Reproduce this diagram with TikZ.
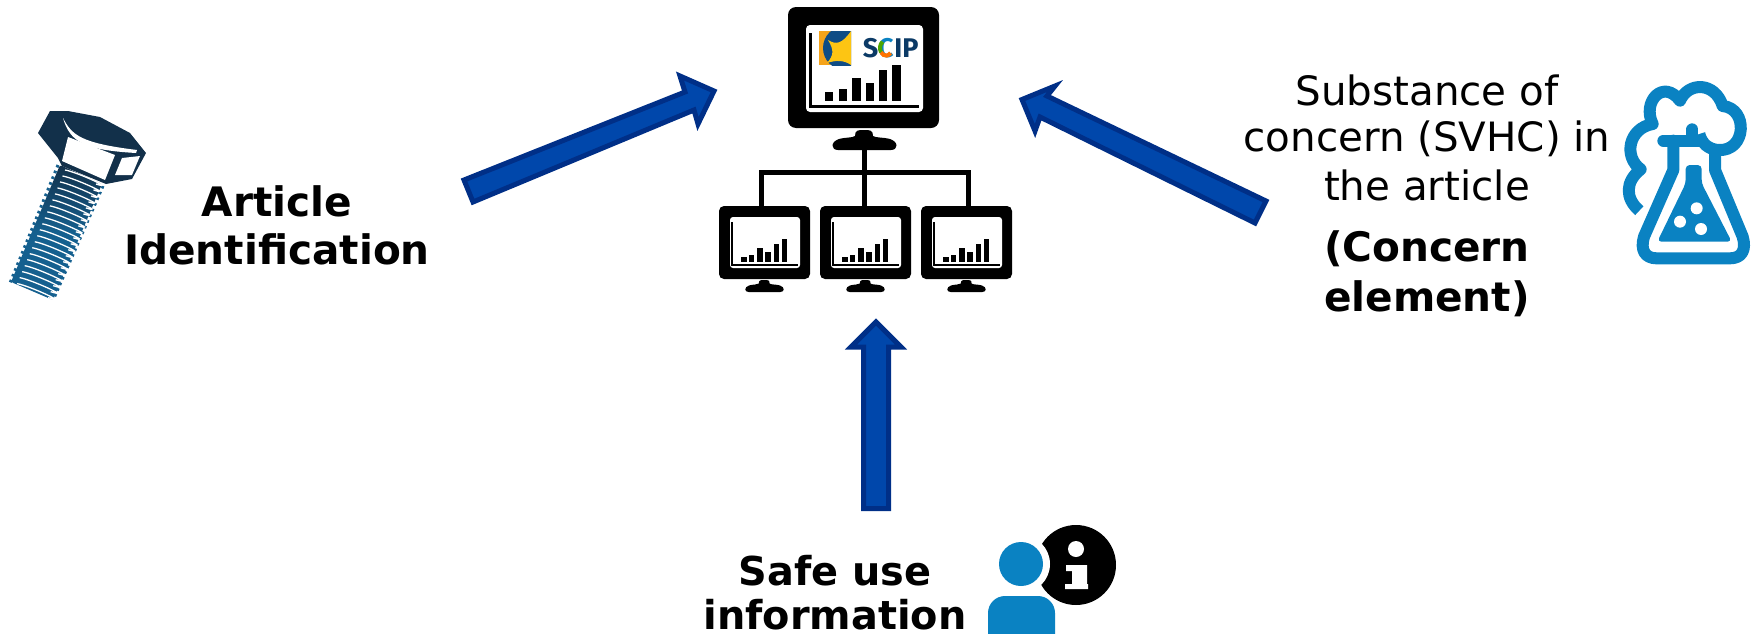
\documentclass[tikz,border=0pt]{standalone}
\usepackage{fontspec}
\setmainfont{DejaVu Sans}
\newfontfamily\logofont{Fira Sans}
\usetikzlibrary{calc}
\definecolor{arrowfill}{HTML}{0047AB}
\definecolor{arrowedge}{HTML}{002F87}
\definecolor{iconblue}{HTML}{0A82C2}
\definecolor{boltdark}{HTML}{12304A}
\definecolor{boltblue}{HTML}{15608F}
\definecolor{logoorange}{HTML}{F5A31A}
\definecolor{logoblue}{HTML}{0F4C85}
\definecolor{logoyellow}{HTML}{FDC513}
\definecolor{scipnavy}{HTML}{0B3A66}
\newcommand\standpath{(6,20) -- (59,20) .. controls (66,20) and (67,12) .. (58,9) .. controls (50,7) and (44,8) .. (41,6) .. controls (41,0) and (38,0) .. (32,0) .. controls (26,0) and (23,0) .. (23,6) .. controls (20,8) and (15,7) .. (7,9) .. controls (-2,12) and (-1,20) .. (6,20) -- cycle}
\tikzset{
  blockarrow/.style={draw=arrowedge,fill=arrowfill,line width=5pt,miter limit=10},
  label/.style={anchor=base,inner sep=0pt,font=\fontsize{40.4}{47}\selectfont},
  labelb/.style={label,font=\fontsize{40.6}{47}\selectfont\bfseries},
  labelc/.style={label,font=\fontsize{39.8}{47}\selectfont\bfseries},
  wire/.style={line width=5pt,draw=black},
  flaskline/.style={draw=iconblue,line width=12pt,line cap=round,line join=round},
  sciptext/.style={anchor=center,inner sep=0pt,text=scipnavy,font=\logofont\fontsize{27}{27}\selectfont\bfseries},
  pics/smallmon/.style={code={
    \fill[black,rounded corners=5pt] (0,0) rectangle (91,73);
    \fill[white,rounded corners=3pt] (11,11) rectangle (81,62);
    \draw[black,line width=2pt] (13,16) -- (13,59) -- (79,59);
    \foreach \a/\b/\t in {22/28/51,30/35/49,38/44/42,46/52/46,55/60/38,63/68/33}
      \fill[black] (\a,\t) rectangle (\b,56);
    \fill[black,shift={(26,74)},scale=0.6] \standpath;
  }}
}
\begin{document}
\begin{tikzpicture}[x=1pt,y=-1pt]
\useasboundingbox (0,0) rectangle (1757,635);

% block arrows
\draw[blockarrow] (464,180) -- (685,92) -- (680,76) -- (714,91) -- (698,124) -- (694,110) -- (473,202) -- cycle;
\draw[blockarrow] (1266,201) -- (1047,96) -- (1055,86) -- (1022,99.5) -- (1035,131) -- (1040,117) -- (1255,223) -- cycle;
\draw[blockarrow] (863.5,508.5) -- (863.5,347) -- (851,347) -- (876,322) -- (901,347) -- (888.5,347) -- (888.5,508.5) -- cycle;

% main monitor
\fill[black,rounded corners=8pt] (788,7) rectangle (939,128);
\fill[white,rounded corners=4pt] (806,25) rectangle (923,112);
\draw[black,line width=3pt] (810,33) -- (810,106) -- (919,106);
\foreach \a/\b/\t in {825/833/92,839/847/89,852/861/78,866/874/83,879/887/70,892/901/65}
  \fill[black] (\a,\t) rectangle (\b,101);
\fill[black,shift={(832,130)}] \standpath;

% logo
\fill[logoorange] (819,31) rectangle (851,65);
\begin{scope}
  \clip (819,31) rectangle (851,65);
  \fill[logoblue] (845,48) circle (22);
  \fill[logoyellow] (828,40) .. controls (836,45) and (842,44) .. (851,31) -- (851,65)
    .. controls (844,60) and (836,60) .. (827,63) .. controls (834,55) and (834,50) .. (828,40) -- cycle;
\end{scope}
\node[sciptext] (scipS) at (870.5,48) {S};
\node[sciptext,text=iconblue] (scipC) at (886,48) {C};
\node[sciptext] (scipP) at (906.5,48) {IP};
\draw[line width=4pt,green!50!black!70!yellow] ($(scipC)+(125:6pt and 7.6pt)$) arc[start angle=125,end angle=215,x radius=6pt,y radius=7.6pt];
\draw[line width=4pt,orange!90!red] ($(scipC)+(215:6pt and 7.6pt)$) arc[start angle=215,end angle=320,x radius=6pt,y radius=7.6pt];

% network
\draw[wire] (864,150) -- (864,206);
\draw[wire] (761,206) -- (761,172) -- (968,172) -- (968,206);
\pic at (719,206) {smallmon};
\pic at (820,206) {smallmon};
\pic at (921,206) {smallmon};

% bolt
\draw[boltblue,line width=3pt,dash pattern=on 2.6pt off 3.6pt] (58,165) -- (10,283);
\draw[boltblue,line width=3pt,dash pattern=on 2.6pt off 3.6pt] (103,186) -- (54,298);
\shade[top color=boltdark,bottom color=boltblue,middle color=boltblue,rounded corners=2pt]
  (60,165) -- (102,184) -- (53,300) -- (11,282) -- cycle;
\foreach \i in {0,...,19}
  \draw[white,line width=1.3pt]
    ($(65,170)+\i*(-2.52,5.98)$) .. controls +(12,2) and +(22,7) .. +(31,14);
\fill[boltdark] (50,111) -- (38,133) -- (58,158) -- (62,166) -- (106,184) -- (132,179) -- (146,153)
  -- (130,133) -- (100,117) -- (68,111) -- cycle;
\fill[white] (68,137) -- (115,155) -- (105,180) -- (62,161) -- cycle;
\fill[white] (122,158) -- (140,156) -- (132,175) -- (115,175) -- cycle;
\fill[white] (63,118) .. controls (72,135) and (80,143) .. (137,150) -- (136,153)
  .. controls (84,150) and (70,142) .. (63,118) -- cycle;

% flask
\begin{scope}[x=0.33333pt,y=-0.33333pt,xshift=1600pt,yshift=-70pt]
  \draw[flaskline,line cap=butt] (118,422) .. controls (75,385) and (75,335) .. (122,298)
    .. controls (70,260) and (85,175) .. (158,162)
    .. controls (125,95) and (190,25) .. (240,92)
    .. controls (265,35) and (345,35) .. (368,108)
    .. controls (445,115) and (440,245) .. (355,240)
    .. controls (325,238) and (305,220) .. (298,192);
  \draw[flaskline] (277,178) -- (277,212);
  \draw[flaskline] (190,212) -- (300,212);
  \draw[flaskline] (345,240) -- (345,300) -- (428,500)
    .. controls (440,540) and (425,565) .. (390,565) -- (170,565)
    .. controls (135,565) and (120,540) .. (132,500) -- (220,300) -- (220,212);
  \fill[iconblue,rounded corners=4pt] (257,340) -- (257,285) -- (305,285) -- (305,340) -- (395,515) -- (172,515) -- cycle;
  \fill[white] (290,415) circle (18);
  \fill[white] (240,455) circle (18);
  \fill[white] (303,477) circle (18);
\end{scope}

% person + info
\fill[black] (1076,565) circle (40);
\fill[white] (1021,564) circle (29);
\fill[iconblue] (1021,564) circle (22);
\begin{scope}
  \clip (980,590) rectangle (1060,633);
  \fill[iconblue,rounded corners=17pt] (988,660) -- (988,596) -- (1055,596) -- (1055,660) -- cycle;
\end{scope}
\fill[white] (1076,549) circle (8);
\fill[white] (1066,565) -- (1087,565) -- (1087,584) -- (1088,584) -- (1088,589) -- (1065,589) -- (1065,584) -- (1072,584) -- (1072,571) -- (1066,571) -- cycle;

% labels
\node[labelb] (a1) at (277,216) {Article};
\node[labelb] (a2) at (277,264) {Identification};
\node[label] (s1) at (1427,105) {Substance of};
\node[label] (s2) at (1427,151) {concern (SVHC) in};
\node[label] (s3) at (1427,200) {the article};
\node[labelb] (s4) at (1427,261) {(Concern};
\node[labelb] (s5) at (1427,311) {element)};
\node[labelc] (u1) at (835,585) {Safe use};
\node[labelc] (u2) at (835,629) {information};
\end{tikzpicture}
\end{document}
